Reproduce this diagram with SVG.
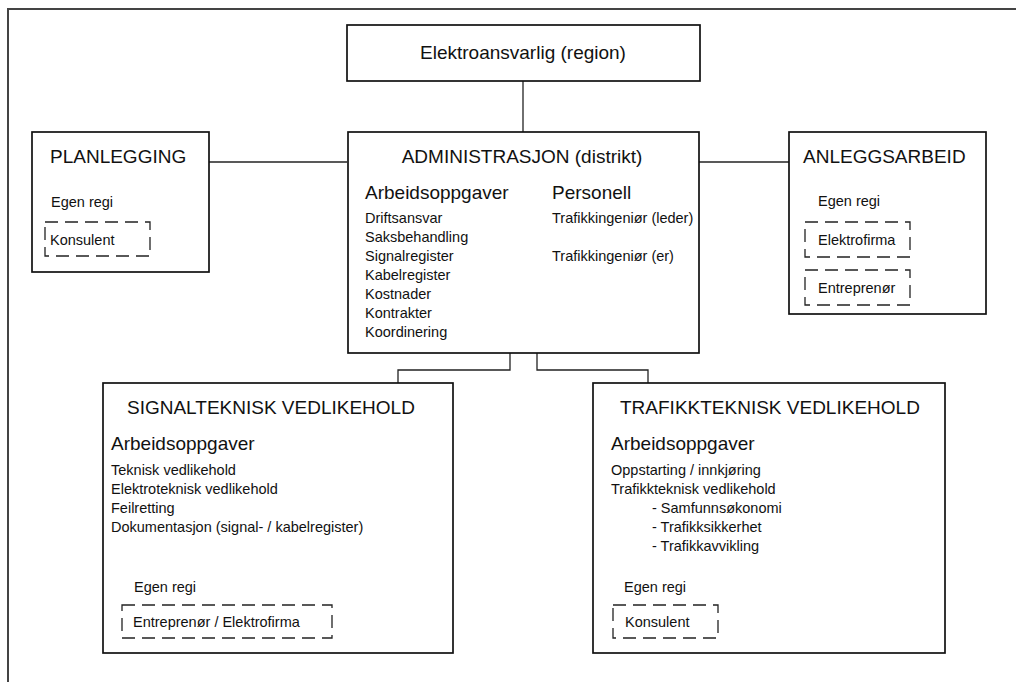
<svg xmlns="http://www.w3.org/2000/svg" width="1016" height="682" viewBox="0 0 1016 682">
<style>
.box{fill:#fff;stroke:#111;stroke-width:1.7}
.dash{fill:none;stroke:#222;stroke-width:1.3;stroke-dasharray:13 7}
.frame{fill:none;stroke:#444;stroke-width:2}
.con{fill:none;stroke:#222;stroke-width:1.3}
text{font-family:"Liberation Sans",Arial,sans-serif;fill:#111}
.big{font-size:19px}
.sm{font-size:14.5px}
.mid{text-anchor:middle}
</style>
<rect x="0" y="0" width="1016" height="682" fill="#fff"/>
<rect class="frame" x="8" y="9" width="1030" height="700"/>
<g id="connectors">
<path class="con" d="M523,81 V133"/>
<path class="con" d="M209,162 H347"/>
<path class="con" d="M699,162 H789"/>
<path class="con" d="M510,353 V370 H398 V383"/>
<path class="con" d="M537,353 V370 H648 V383"/>
</g>
<g id="elektroansvarlig">
<rect class="box" x="347" y="25" width="353" height="56"/>
<text class="big mid" x="523" y="59">Elektroansvarlig (region)</text>
</g>
<g id="planlegging">
<rect class="box" x="32" y="132" width="177" height="140"/>
<text class="big" x="50" y="163">PLANLEGGING</text>
<text class="sm" x="51" y="207">Egen regi</text>
<rect class="dash" x="45" y="222" width="105" height="34"/>
<text class="sm" x="50" y="245">Konsulent</text>
</g>
<g id="administrasjon">
<rect class="box" x="348" y="132" width="351" height="221"/>
<text class="big mid" x="522" y="163">ADMINISTRASJON (distrikt)</text>
<text class="big" x="365" y="199">Arbeidsoppgaver</text>
<text class="sm" x="365" y="223">Driftsansvar</text>
<text class="sm" x="365" y="242">Saksbehandling</text>
<text class="sm" x="365" y="261">Signalregister</text>
<text class="sm" x="365" y="280">Kabelregister</text>
<text class="sm" x="365" y="299">Kostnader</text>
<text class="sm" x="365" y="318">Kontrakter</text>
<text class="sm" x="365" y="337">Koordinering</text>
<text class="big" x="552" y="199">Personell</text>
<text class="sm" x="552" y="223">Trafikkingeniør (leder)</text>
<text class="sm" x="552" y="261">Trafikkingeniør (er)</text>
</g>
<g id="anleggsarbeid">
<rect class="box" x="789" y="132" width="197" height="182"/>
<text class="big" x="803" y="163">ANLEGGSARBEID</text>
<text class="sm" x="818" y="206">Egen regi</text>
<rect class="dash" x="805" y="222" width="105" height="35"/>
<text class="sm" x="818" y="245">Elektrofirma</text>
<rect class="dash" x="805" y="270" width="105" height="35"/>
<text class="sm" x="818" y="293">Entreprenør</text>
</g>
<g id="signalteknisk">
<rect class="box" x="103" y="383" width="350" height="270"/>
<text class="big" x="127" y="414">SIGNALTEKNISK VEDLIKEHOLD</text>
<text class="big" x="111" y="450">Arbeidsoppgaver</text>
<text class="sm" x="111" y="475">Teknisk vedlikehold</text>
<text class="sm" x="111" y="494">Elektroteknisk vedlikehold</text>
<text class="sm" x="111" y="513">Feilretting</text>
<text class="sm" x="111" y="532">Dokumentasjon (signal- / kabelregister)</text>
<text class="sm" x="134" y="592">Egen regi</text>
<rect class="dash" x="122" y="605" width="210" height="33"/>
<text class="sm" x="133" y="627">Entreprenør / Elektrofirma</text>
</g>
<g id="trafikkteknisk">
<rect class="box" x="593" y="383" width="352" height="270"/>
<text class="big" x="620" y="414">TRAFIKKTEKNISK VEDLIKEHOLD</text>
<text class="big" x="611" y="450">Arbeidsoppgaver</text>
<text class="sm" x="611" y="475">Oppstarting / innkjøring</text>
<text class="sm" x="611" y="494">Trafikkteknisk vedlikehold</text>
<text class="sm" x="652" y="513">- Samfunnsøkonomi</text>
<text class="sm" x="652" y="532">- Trafikksikkerhet</text>
<text class="sm" x="652" y="551">- Trafikkavvikling</text>
<text class="sm" x="624" y="592">Egen regi</text>
<rect class="dash" x="613" y="605" width="105" height="33"/>
<text class="sm" x="625" y="627">Konsulent</text>
</g>
</svg>
